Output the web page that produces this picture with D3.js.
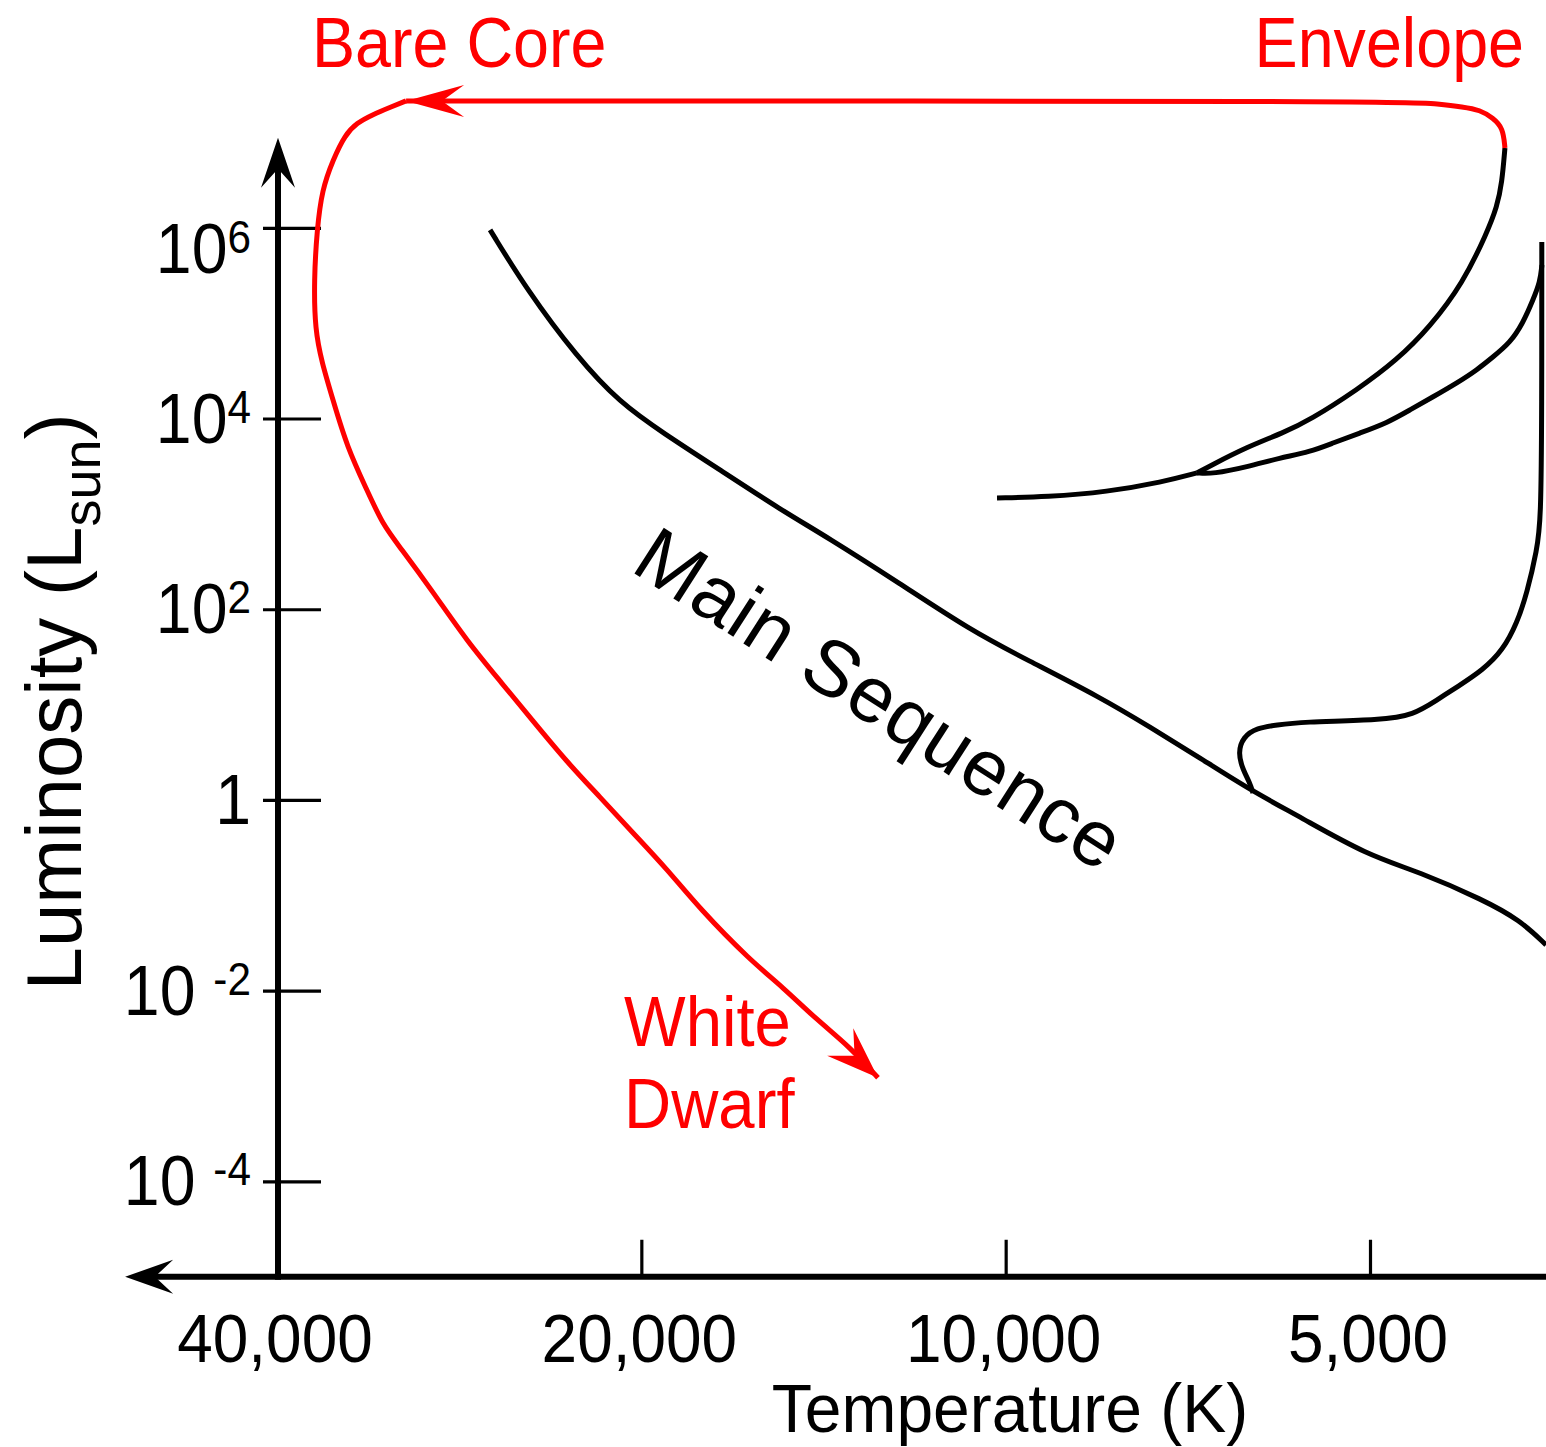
<!DOCTYPE html>
<html>
<head>
<meta charset="utf-8">
<script src="https://cdn.jsdelivr.net/npm/d3@7"></script>
<style>
  html, body { margin: 0; padding: 0; background: #fff; }
  svg { display: block; }
  text { font-family: "Liberation Sans", Arial, Helvetica, sans-serif; white-space: pre; }
</style>
</head>
<body>
<svg id="chart" width="1546" height="1447"></svg>
<script>
// Each track is a list of [temperature (K), luminosity (L_sun)] pairs.
const mainSequence = [
  [26670, 9.5e5], [24860, 2.23e5], [22610, 4.43e4], [20830, 1.46e4], [19190, 7.06e3],
  [17220, 2.89e3], [15330, 1.10e3], [14050, 573], [12250, 189], [10700, 60.6],
  [9600, 29.4], [8360, 12.0], [7600, 5.83], [6910, 2.76], [6280, 1.27], [5710, 0.663],
  [5030, 0.265], [4550, 0.176], [4030, 0.0894], [3760, 0.0551], [3577, 0.0302]
];

// Low-mass star leaving the main sequence and climbing to the giant tip
const giantLoop = [
  [6247, 1.184], [6283, 1.508], [6367, 2.063], [6428, 3.111], [6367, 4.579], [6200, 5.69],
  [5968, 6.115], [5712, 6.577], [4877, 6.902], [4607, 7.787], [4401, 11.19], [4237, 15.31],
  [4033, 23.08], [3882, 37.4], [3780, 71.8], [3709, 148], [3639, 419], [3612, 864],
  [3606, 1.17e4], [3606, 7.11e5]
];

// Horizontal-branch stem and the two branches rising from it
const branchStem = [
  [10166, 1469], [9243, 1505], [8247, 1698], [7413, 2162], [6949, 2687]
];
const branchUpper = [
  [6949, 2687], [6779, 3182], [6319, 5033], [5900, 7058], [5605, 9663], [5125, 1.994e4],
  [4749, 4.115e4], [4461, 9.13e4], [4189, 2.64e5], [4003, 8.84e5], [3927, 1.655e6],
  [3890, 2.95e6], [3868, 6.88e6]
];
const branchLower = [
  [6949, 2687], [6741, 2623], [6319, 3107], [5934, 3860], [5605, 4461], [5364, 5544],
  [5095, 7058], [4840, 8987], [4634, 1.23e4], [4436, 1.684e4], [4237, 2.361e4],
  [4079, 3.232e4], [3957, 4.423e4], [3831, 6.202e4], [3737, 1.005e5], [3667, 1.752e5],
  [3618, 2.706e5], [3605, 4.08e5]
];

// Envelope ejection, then the bare core cooling into a white dwarf
const envelopeTrack = [
  [3868, 6.88e6], [3882, 1.115e7], [3957, 1.419e7], [4056, 1.722e7], [4189, 1.851e7],
  [4393, 1.991e7], [4660, 2.14e7], [31290, 2.14e7]
];
const coreTrack = [
  [31290, 2.14e7], [32200, 1.851e7], [33390, 1.526e7], [34360, 1.258e7], [35150, 9.42e6],
  [35960, 5.15e6], [36720, 2.5e6], [37070, 9.5e5], [37280, 2.84e5], [37210, 8.49e4],
  [36720, 3.83e4], [35960, 1.57e4], [35010, 5030], [33710, 1780], [32700, 765],
  [31660, 450], [29730, 152], [27870, 46.5], [26170, 17.7], [24580, 6.74], [23040, 2.5],
  [21640, 1.075], [20320, 0.451], [19050, 0.189], [17890, 0.0719], [16270, 0.021],
  [15280, 0.0109], [14320, 0.00493], [13450, 0.00257], [12750, 0.00122]
];

// Axis ticks and labels
const tempTicks = [40000, 20000, 10000, 5000];
const tempTickLabels = ["40,000", "20,000", "10,000", "5,000"];
const lumTicks = [1e6, 1e4, 1e2, 1, 1e-2, 1e-4];
const lumTickBase = ["10", "10", "10", "1", "10 ", "10 "];
const lumTickExp = ["6", "4", "2", "", "-2", "-4"];

// Extent of the drawn axis lines (arrow tips)
const tempAxisExtent = [53400, 3500];
const lumAxisExtent = [1e-5, 8.8e6];

const RED = "#ff0000";
const svg = d3.select("#chart");
svg.append("rect").attr("width", 1546).attr("height", 1447).attr("fill", "#fff");

// Hotter stars to the left: temperature decreases along the x axis
const x = d3.scaleLog().domain([40000, 5000]).range([277, 1370]);
const y = d3.scaleLog().domain([1e-4, 1e6]).range([1181.4, 227.8]);

const line = d3.line()
  .x(d => x(d[0]))
  .y(d => y(d[1]))
  .curve(d3.curveBasis);

function arrowHead(g, tip, from, color, len, half) {
  const ang = Math.atan2(tip[1] - from[1], tip[0] - from[0]) * 180 / Math.PI;
  g.append("path")
    .attr("d", `M0,0L${-len},${-half}L${-len * 0.62},0L${-len},${half}Z`)
    .attr("transform", `translate(${tip[0]},${tip[1]}) rotate(${ang})`)
    .attr("fill", color);
}

// ---- Axes ----
const axisG = svg.append("g");
const x0 = x(40000) + 1;
const yBottom = y(lumAxisExtent[0]);

const yAxis = d3.axisRight(y).tickValues(lumTicks).tickSize(43).tickFormat("");
const gy = axisG.append("g").attr("transform", `translate(${x0},0)`).call(yAxis);
gy.select(".domain").remove();
gy.selectAll(".tick line").attr("x1", -15).attr("stroke", "#000").attr("stroke-width", 3.2);

const xAxis = d3.axisTop(x).tickValues(tempTicks).tickSize(37).tickFormat("");
const gx = axisG.append("g").attr("transform", `translate(0,${yBottom})`).call(xAxis);
gx.select(".domain").remove();
gx.selectAll(".tick line").attr("stroke", "#000").attr("stroke-width", 3.2);

const yTop = y(lumAxisExtent[1]);
axisG.append("line")
  .attr("x1", x0).attr("x2", x0).attr("y1", yBottom + 3).attr("y2", yTop + 20)
  .attr("stroke", "#000").attr("stroke-width", 6);
arrowHead(axisG, [x0, yTop], [x0, yTop + 10], "#000", 50, 17);

const xLeft = x(tempAxisExtent[0]);
axisG.append("line")
  .attr("x1", xLeft + 20).attr("x2", x(tempAxisExtent[1])).attr("y1", yBottom).attr("y2", yBottom)
  .attr("stroke", "#000").attr("stroke-width", 6);
arrowHead(axisG, [xLeft, yBottom], [xLeft + 10, yBottom], "#000", 48, 17);

// Tick labels
const yl = svg.append("g").attr("font-size", 70).attr("fill", "#000");
lumTicks.forEach((v, i) => {
  const t = yl.append("text")
    .attr("text-anchor", "end")
    .attr("transform", `translate(251,${y(v) + (v === 1e6 ? 45 : 24)}) scale(0.92,1)`);
  t.append("tspan").text(lumTickBase[i]);
  if (lumTickExp[i]) t.append("tspan").attr("font-size", 46).attr("dy", -20).text(lumTickExp[i]);
});

const xl = svg.append("g").attr("font-size", 68).attr("fill", "#000");
tempTicks.forEach((v, i) => {
  xl.append("text")
    .attr("text-anchor", "middle")
    .attr("transform", `translate(${x(v) - 2},1362) scale(0.94,1)`)
    .text(tempTickLabels[i]);
});

// Axis titles
svg.append("text")
  .attr("text-anchor", "middle").attr("font-size", 68)
  .attr("transform", "translate(1010,1432) scale(0.97,1)")
  .text("Temperature (K)");

const yt = svg.append("text")
  .attr("text-anchor", "middle").attr("font-size", 78)
  .attr("transform", "translate(81,702) rotate(-90)");
yt.append("tspan").text("Luminosity (L");
yt.append("tspan").attr("font-size", 54).attr("dy", 19).text("sun");
yt.append("tspan").attr("dy", -19).text(")");

// ---- Evolutionary tracks ----
const tracks = svg.append("g").attr("fill", "none").attr("stroke-linejoin", "round");
[mainSequence, giantLoop, branchStem, branchUpper, branchLower].forEach(d => {
  tracks.append("path").attr("d", line(d)).attr("stroke", "#000").attr("stroke-width", 5);
});
[envelopeTrack, coreTrack].forEach(d => {
  tracks.append("path").attr("d", line(d)).attr("stroke", RED).attr("stroke-width", 5);
});

const px = d => [x(d[0]), y(d[1])];
arrowHead(svg, px(envelopeTrack[envelopeTrack.length - 1]), px(envelopeTrack[envelopeTrack.length - 2]), RED, 58, 16);
arrowHead(svg, px(coreTrack[coreTrack.length - 1]), px(coreTrack[coreTrack.length - 3]), RED, 52, 19);

// ---- Annotations ----
const ann = svg.append("g").attr("font-size", 71).attr("fill", RED);
ann.append("text").attr("transform", "translate(312,67) scale(0.91,1)").text("Bare Core");
ann.append("text").attr("text-anchor", "end").attr("transform", "translate(1524,67) scale(0.91,1)").text("Envelope");
ann.append("text").attr("transform", "translate(624,1046) scale(0.92,1)").text("White");
ann.append("text").attr("transform", "translate(624,1128) scale(0.92,1)").text("Dwarf");

svg.append("text")
  .attr("font-size", 79).attr("letter-spacing", 1).attr("fill", "#000")
  .attr("transform", "translate(629,570) rotate(32.7)")
  .text("Main Sequence");
</script>
</body>
</html>
